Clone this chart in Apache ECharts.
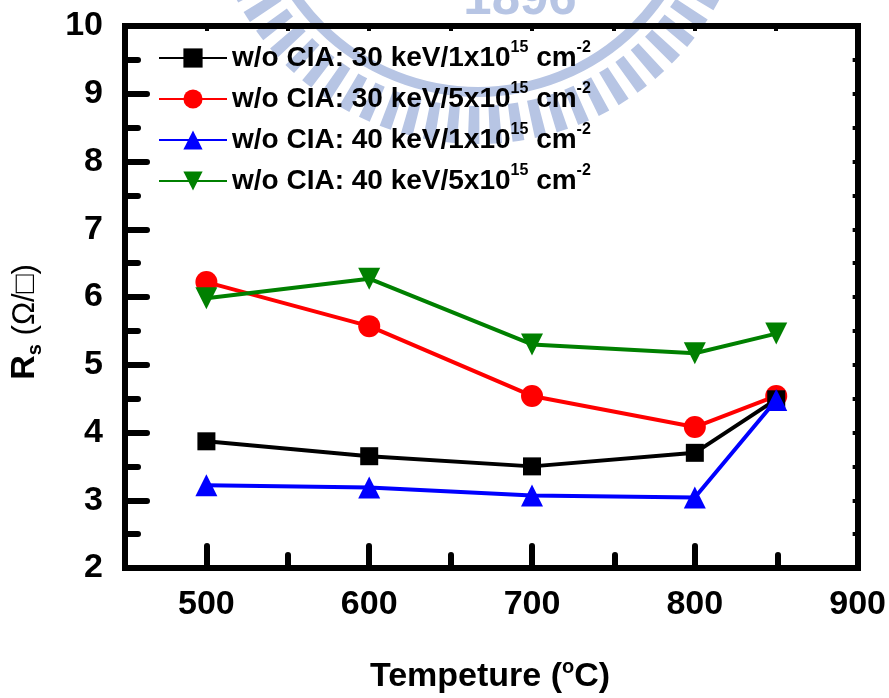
<!DOCTYPE html>
<html>
<head>
<meta charset="utf-8">
<script src="https://cdn.jsdelivr.net/npm/echarts@6/dist/echarts.min.js"></script>
<style>
html,body{margin:0;padding:0;background:#fff;}
#chart{width:889px;height:698px;}
</style>
</head>
<body>
<div id="chart"></div>
<script>
// ---- data ----
const temperatures = [500, 600, 700, 800, 850];
const energies = ['30', '30', '40', '40'];
const doses = ['1', '5', '1', '5'];
const rs30keV1e15 = [3.87, 3.65, 3.50, 3.70, 4.49];
const rs30keV5e15 = [6.22, 5.57, 4.54, 4.08, 4.54];
const rs40keV1e15 = [3.22, 3.19, 3.07, 3.04, 4.48];
const rs40keV5e15 = [5.98, 6.27, 5.30, 5.17, 5.46];
const xMajorTicks = [500, 600, 700, 800, 900];
const xMinorTicks = [550, 650, 750, 850];
const xTopTicks = [500, 550, 600, 650, 700, 750, 800, 850];

const FONT = '"Liberation Sans", Arial, sans-serif';
const names = energies.map((e, i) => 'w/o CIA: ' + e + ' keV/' + doses[i] + 'x10^15 cm^-2');
const legendRich = {};
names.forEach((n, i) => {
  legendRich[n] = '{b|w/o CIA: ' + energies[i] + ' keV/' + doses[i] + 'x10}{sup|15}{b| cm}{sup|-2}';
});

function pairs(vals) { return temperatures.map((t, i) => [t, vals[i]]); }

const seriesDefs = [
  {vals: rs30keV1e15, color: '#000000', symbol: 'rect', size: 18, rotate: 0, z: 3},
  {vals: rs30keV5e15, color: '#ff0000', symbol: 'circle', size: 22, rotate: 0, z: 2},
  {vals: rs40keV1e15, color: '#0000ff', symbol: 'triangle', size: 22, rotate: 0, z: 4},
  {vals: rs40keV5e15, color: '#008000', symbol: 'triangle', size: 22, rotate: 180, z: 5}
];

const axisLineStyle = {color: '#000', width: 6, cap: 'square'};

const chart = echarts.init(document.getElementById('chart'));
chart.setOption({
  animation: false,
  backgroundColor: '#fff',
  grid: [
    {left: 125, right: 30, top: 26, bottom: 130, containLabel: false},
    {left: 125, right: 30, top: 26, bottom: 130, containLabel: false}
  ],
  xAxis: [
    {
      type: 'value', gridIndex: 0, position: 'bottom', min: 450, max: 900,
      axisLine: {show: true, onZero: false, lineStyle: axisLineStyle},
      axisTick: {show: true, inside: true, length: 22, customValues: xMajorTicks,
        lineStyle: {color: '#000', width: 6, cap: 'round'}},
      axisLabel: {show: true, customValues: xMajorTicks, margin: 20, color: '#000',
        fontFamily: FONT, fontSize: 34, fontWeight: 'bold'},
      splitLine: {show: false}
    },
    {
      type: 'value', gridIndex: 0, position: 'top', min: 450, max: 900,
      axisLine: {show: true, onZero: false, lineStyle: axisLineStyle},
      axisTick: {show: true, inside: true, length: 5, customValues: xTopTicks,
        lineStyle: {color: '#000', width: 4}},
      axisLabel: {show: false},
      splitLine: {show: false}
    },
    {
      type: 'value', gridIndex: 1, position: 'bottom', min: 450, max: 900,
      axisLine: {show: false},
      axisTick: {show: true, inside: true, length: 13, customValues: xMinorTicks,
        lineStyle: {color: '#000', width: 6, cap: 'round'}},
      axisLabel: {show: false},
      splitLine: {show: false}
    }
  ],
  yAxis: [
    {
      type: 'value', gridIndex: 0, position: 'left', min: 2, max: 10, interval: 1,
      axisLine: {show: true, onZero: false, lineStyle: axisLineStyle},
      axisTick: {show: true, inside: true, length: 22, lineStyle: {color: '#000', width: 6, cap: 'round'}},
      minorTick: {show: true, splitNumber: 2, length: 13, lineStyle: {color: '#000', width: 6, cap: 'round'}},
      axisLabel: {show: true, margin: 22, color: '#000', fontFamily: FONT, fontSize: 34, fontWeight: 'bold'},
      splitLine: {show: false}, minorSplitLine: {show: false}
    },
    {
      type: 'value', gridIndex: 0, position: 'right', min: 2, max: 10, interval: 1,
      axisLine: {show: true, onZero: false, lineStyle: axisLineStyle},
      axisTick: {show: true, inside: true, length: 5, lineStyle: {color: '#000', width: 4}},
      minorTick: {show: true, splitNumber: 2, length: 5, lineStyle: {color: '#000', width: 4}},
      axisLabel: {show: false},
      splitLine: {show: false}
    },
    {
      type: 'value', gridIndex: 1, min: 2, max: 10, interval: 1, show: false
    }
  ],
  legend: {
    orient: 'vertical', left: 158, top: 40, padding: 0, itemGap: 9,
    itemWidth: 68, itemHeight: 24,
    data: names,
    formatter: n => legendRich[n],
    textStyle: {
      color: '#000', fontFamily: FONT, fontSize: 28, fontWeight: 'bold',
      rich: {
        b: {fontFamily: FONT, fontSize: 28, fontWeight: 'bold', color: '#000', lineHeight: 36, verticalAlign: 'middle'},
        sup: {fontFamily: FONT, fontSize: 16, fontWeight: 'bold', color: '#000', lineHeight: 5, verticalAlign: 'top'}
      }
    }
  },
  graphic: [
    {type: 'circle', z: -10, silent: true, shape: {cx: 478, cy: -130, r: 255},
      style: {fill: 'none', stroke: '#b7c5e4', lineWidth: 38, lineDash: [11, 10]}},
    {type: 'circle', z: -10, silent: true, shape: {cx: 478, cy: -130, r: 222},
      style: {fill: 'none', stroke: '#b7c5e4', lineWidth: 10}},
    {type: 'text', z: -10, silent: true, x: 520, y: 25,
      style: {text: '1896', fill: '#b7c5e4', fontFamily: FONT, fontSize: 51, fontWeight: 'bold',
        align: 'center', verticalAlign: 'bottom'}},
    {type: 'text', x: 490, y: 677,
      style: {text: '{b|Tempeture (}{sup|o}{b|C)}', align: 'center', verticalAlign: 'middle',
        rich: {
          b: {fontFamily: FONT, fontSize: 34, fontWeight: 'bold', fill: '#000', lineHeight: 40, verticalAlign: 'middle'},
          sup: {fontFamily: FONT, fontSize: 20, fontWeight: 'bold', fill: '#000', lineHeight: 10, verticalAlign: 'top'}
        }}},
    {type: 'text', x: 25, y: 322, rotation: Math.PI / 2,
      style: {text: '{b|R}{sub|s}{n| (Ω/□)}', align: 'center', verticalAlign: 'middle',
        rich: {
          b: {fontFamily: FONT, fontSize: 34, fontWeight: 'bold', fill: '#000', lineHeight: 40, verticalAlign: 'middle'},
          sub: {fontFamily: FONT, fontSize: 20, fontWeight: 'bold', fill: '#000', lineHeight: 10, verticalAlign: 'bottom'},
          n: {fontFamily: FONT, fontSize: 31, fontWeight: 'normal', fill: '#000', lineHeight: 40, verticalAlign: 'middle'}
        }}}
  ],
  series: seriesDefs.map((d, i) => ({
    name: names[i],
    type: 'line',
    xAxisIndex: 0, yAxisIndex: 0,
    data: pairs(d.vals),
    symbol: d.symbol,
    symbolSize: d.size,
    symbolRotate: d.rotate,
    z: d.z,
    lineStyle: {color: d.color, width: 4},
    itemStyle: {color: d.color, opacity: 1},
    emphasis: {disabled: true}
  }))
});
</script>
</body>
</html>
